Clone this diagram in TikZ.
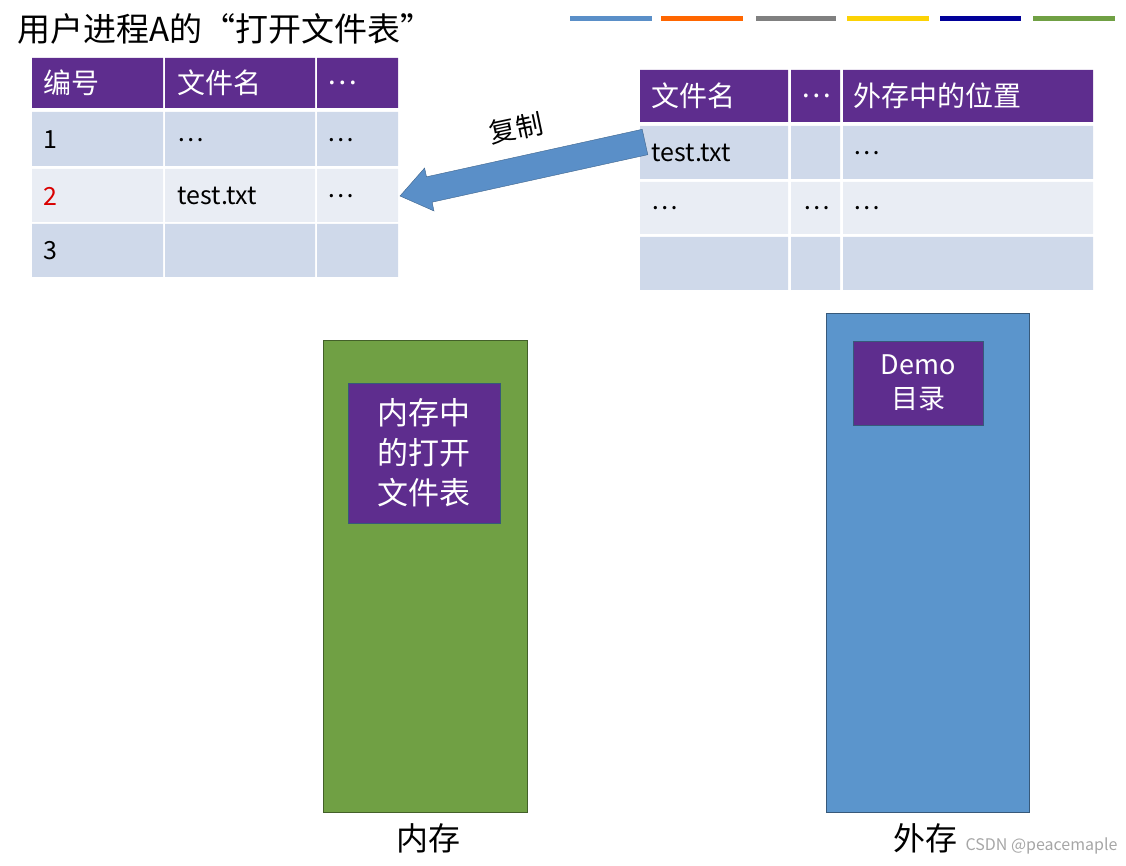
\documentclass[tikz,border=0pt]{standalone}
\usepackage{fontspec}
\setmainfont{Noto Sans CJK SC}
\usetikzlibrary{calc}
\definecolor{hdr}{HTML}{5E2D8E}
\definecolor{rowA}{HTML}{CFD9EA}
\definecolor{rowB}{HTML}{E9EDF4}
\definecolor{memg}{HTML}{70A044}
\definecolor{diskb}{HTML}{5B95CC}
\definecolor{arrb}{HTML}{5A8FC8}
\begin{document}
\begin{tikzpicture}[x=1pt,y=-1pt,
  cell/.style={anchor=west,font=\fontsize{25}{28}\selectfont},
  hcell/.style={anchor=west,text=white,font=\fontsize{28}{32}\selectfont},
  inbox/.style={draw=diskb!60!black,fill=hdr,text=white,align=center,font=\fontsize{31}{40}\selectfont,inner sep=0pt},
  bar/.style={line width=5pt}]
\useasboundingbox (0,0) rectangle (1126,866);
\node[anchor=west,font=\fontsize{33}{36}\selectfont] (title) at (14,29) {用户进程A的“打开文件表”};
\foreach \xa/\xb/\c in {570/652/arrb,661/743/orange!80!red,756/836/gray,847/929/yellow!70!orange,940/1021/blue!60!black,1033/1115/memg}
  \draw[bar,\c] (\xa,19) -- (\xb,19);
% left table
\fill[hdr] (32,58) rectangle (163,108) (165,58) rectangle (315,108) (317,58) rectangle (398,108);
\foreach \ya/\yb/\c in {112/166/rowA,169/222/rowB,224/277/rowA}{
  \fill[\c] (32,\ya) rectangle (163,\yb) (165,\ya) rectangle (315,\yb) (317,\ya) rectangle (398,\yb);}
\node[hcell] (l1) at (40,83) {编号};
\node[hcell] (l2) at (174,83) {文件名};
\node[hcell] (l3) at (324,83) {…};
\node[cell] (a1) at (40,140) {1};
\node[cell] (a2) at (174,140) {…};
\node[cell] (a3) at (324,140) {…};
\node[cell,text=red!85!black] (b1) at (40,196) {2};
\node[cell] (b2) at (174,196) {test.txt};
\node[cell] (b3) at (324,196) {…};
\node[cell] (c1) at (40,251) {3};
% right table
\fill[hdr] (640,70) rectangle (788,122) (791,70) rectangle (840,122) (843,70) rectangle (1093,122);
\foreach \ya/\yb/\c in {126/179/rowA,182/234/rowB,237/290/rowA}{
  \fill[\c] (640,\ya) rectangle (788,\yb) (791,\ya) rectangle (840,\yb) (843,\ya) rectangle (1093,\yb);}
\node[hcell] (r1) at (648,96) {文件名};
\node[hcell] (r2) at (798,96) {…};
\node[hcell] (r3) at (850,96) {外存中的位置};
\node[cell] (s1) at (648,153) {test.txt};
\node[cell] (s3) at (850,153) {…};
\node[cell] (t1) at (648,208) {…};
\node[cell] (t2) at (800,208) {…};
\node[cell] (t3) at (850,208) {…};
% copy arrow
\coordinate (tip) at (400,196);
\draw[arrb!70!black,fill=arrb] (642.2,129.3) -- (426.5,176.8) -- (424.6,168.0) -- (tip) -- (434.0,211.0) -- (432.1,202.2) -- (647.8,154.7) -- cycle;
\node[font=\fontsize{27}{30}\selectfont,rotate=12] (cplab) at (516,128) {复制};
% memory
\fill[memg,draw=memg!60!black] (323,340) rectangle (527,812);
\node[inbox,minimum width=152pt,minimum height=140pt] (mt) at (424,453) {内存中\\的打开\\文件表};
\node[font=\fontsize{32}{36}\selectfont] (mem) at (428,838) {内存};
% disk
\fill[diskb,draw=diskb!60!black] (826,313) rectangle (1029,812);
\node[inbox,minimum width=130pt,minimum height=84pt,font=\fontsize{27}{34}\selectfont] (dm) at (918,383) {Demo\\目录};
\node[font=\fontsize{32}{36}\selectfont] (disk) at (925,838) {外存};
\node[anchor=west,text=gray!70,font=\fontsize{16}{20}\selectfont] (wm) at (962,846) {CSDN @peacemaple};
\end{tikzpicture}
\end{document}
